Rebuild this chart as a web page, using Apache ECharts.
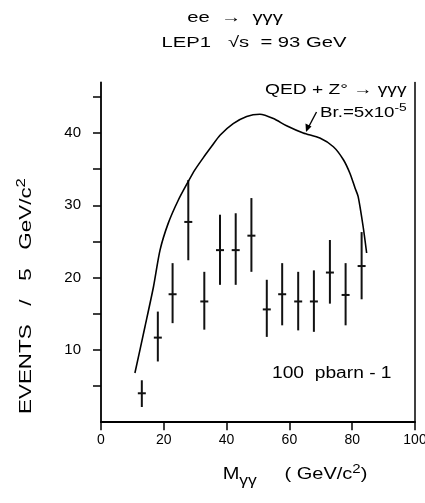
<!DOCTYPE html>
<html><head><meta charset="utf-8">
<script src="https://cdn.jsdelivr.net/npm/echarts@6/dist/echarts.min.js"></script>
<style>html,body{margin:0;padding:0;background:#fff;overflow:hidden}#c{width:425px;height:503px}</style>
</head><body><div id="c"></div>
<script>
// Data (M_γγ in GeV/c², events per 5 GeV/c²)
const massCenters = [13.0,18.1,22.8,27.8,32.9,37.9,42.9,47.9,52.8,57.7,62.8,67.8,72.9,77.9,83.0];
const events      = [4.0,11.7,17.7,27.7,16.7,23.8,23.8,25.8,15.6,17.7,16.7,16.7,20.7,17.6,21.6];
const errLow      = [2.1,8.4,13.7,22.4,12.8,19.0,19.0,20.8,11.8,13.4,12.7,12.5,16.4,13.4,17.0];
const errHigh     = [5.8,15.3,22.0,33.5,20.8,28.7,28.9,31.0,19.7,22.0,20.8,21.0,25.2,22.0,26.3];
// QED + Z0 -> γγγ prediction curve
const curveMass   = [10.8,14.0,16.7,18.8,21.4,24.6,27.8,29.9,32.6,35.3,37.9,42.1,46.4,50.6,54.9,59.1,64.4,69.7,74.0,77.2,79.3,80.9,81.9,83.5,84.6];
const curveEvents = [6.8,13.2,18.7,23.8,27.5,30.7,33.3,34.9,36.6,38.2,39.7,41.3,42.3,42.6,42.0,41.0,40.0,39.3,38.1,36.3,34.4,32.4,31.2,27.0,23.4];
const xTickLabels = [0,20,40,60,80,100];
const yTickLabels = [10,20,30,40];
const yTickMarks  = [5,10,15,20,25,30,35,40,45];

const FONT = 'Liberation Sans, Arial, sans-serif';
const chart = echarts.init(document.getElementById('c'), null, {renderer:'canvas', width:425, height:503});

const option = {
  backgroundColor:'#fff',
  animation:false,
  grid:{left:101, right:10, top:82.4, bottom:80.8, containLabel:false, outerBoundsMode:'none'},
  xAxis:{
    type:'value', min:0, max:100, interval:20,
    axisLine:{show:true, lineStyle:{color:'#000', width:1.8}},
    axisTick:{show:true, length:8, lineStyle:{color:'#000', width:1.5}, customValues:xTickLabels},
    axisLabel:{color:'#000', fontSize:14, fontFamily:FONT, margin:11, customValues:xTickLabels},
    splitLine:{show:false}
  },
  yAxis:[{
    type:'value', min:0, max:47,
    axisLine:{show:true, lineStyle:{color:'#000', width:1.8}},
    axisTick:{show:true, length:8, lineStyle:{color:'#000', width:1.5}, customValues:yTickMarks},
    axisLabel:{color:'#000', fontSize:15, fontFamily:FONT, margin:20, customValues:yTickLabels},
    splitLine:{show:false}
  },{
    type:'value', min:0, max:47, position:'right',
    axisLine:{show:true, lineStyle:{color:'#000', width:1.5}},
    axisTick:{show:false}, axisLabel:{show:false}, splitLine:{show:false}
  }],
  series:[
    {
      type:'line',
      data: curveMass.map((m,i)=>[m, curveEvents[i]]),
      showSymbol:false, smooth:0.25,
      lineStyle:{color:'#000', width:1.6}
    },
    {
      type:'custom',
      data: massCenters.map((m,i)=>[m, events[i], errLow[i], errHigh[i]]),
      encode:{x:0, y:[1,2,3]},
      renderItem:function(params, api){
        const x = api.value(0);
        const p = api.coord([x, api.value(1)]);
        const lo = api.coord([x, api.value(2)]);
        const hi = api.coord([x, api.value(3)]);
        return {type:'group', children:[
          {type:'line', shape:{x1:lo[0], y1:lo[1], x2:hi[0], y2:hi[1]}, style:{stroke:'#111', lineWidth:2}},
          {type:'line', shape:{x1:p[0]-4, y1:p[1], x2:p[0]+4, y2:p[1]}, style:{stroke:'#111', lineWidth:2}}
        ]};
      }
    }
  ],
  graphic:[
    {type:'text', x:235, y:18, scaleX:1.35, style:{text:'ee  →  γγγ', font:'15px '+FONT, fill:'#000', align:'center', verticalAlign:'middle'}},
    {type:'text', x:254, y:43, scaleX:1.35, style:{text:'LEP1   √s  = 93 GeV', font:'15px '+FONT, fill:'#000', align:'center', verticalAlign:'middle'}},
    {type:'text', x:27, y:296, rotation:Math.PI/2, scaleX:1.4,
      style:{text:'EVENTS   /   5   GeV/c{sup|2}', font:'16px '+FONT, fill:'#000', align:'center', verticalAlign:'middle',
        rich:{sup:{fontSize:12, fontFamily:FONT, padding:[0,0,10,0]}}}},
    {type:'text', x:295, y:475, scaleX:1.25,
      style:{text:'M{sub|γγ}     ( GeV/c{sup|2})', font:'16px '+FONT, fill:'#000', align:'center', verticalAlign:'middle',
        rich:{sub:{fontSize:14, fontFamily:FONT, padding:[12,0,0,0]}, sup:{fontSize:12, fontFamily:FONT, padding:[0,0,10,0]}}}},
    {type:'text', x:265, y:90, scaleX:1.28, style:{text:'QED + Z° → γγγ', font:'15px '+FONT, fill:'#000', align:'left', verticalAlign:'middle'}},
    {type:'text', x:320, y:113, scaleX:1.25,
      style:{text:'Br.=5x10{sup|-5}', font:'15px '+FONT, fill:'#000', align:'left', verticalAlign:'middle',
        rich:{sup:{fontSize:11, fontFamily:FONT, padding:[0,0,10,0]}}}},
    {type:'text', x:272, y:374, scaleX:1.2, style:{text:'100  pbarn - 1', font:'16px '+FONT, fill:'#000', align:'left', verticalAlign:'middle'}},
    {type:'line', shape:{x1:316.5, y1:112, x2:307, y2:130}, style:{stroke:'#000', lineWidth:1.4}},
    {type:'polygon', shape:{points:[[306,132],[305.5,123.5],[311.5,126.5]]}, style:{fill:'#000'}}
  ]
};
chart.setOption(option);
</script></body></html>
